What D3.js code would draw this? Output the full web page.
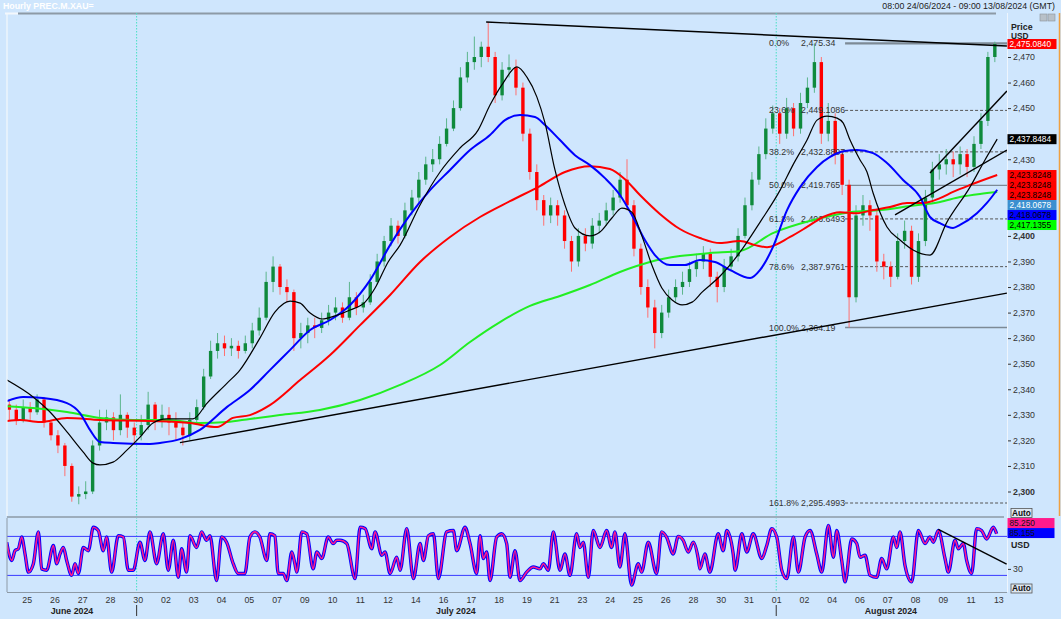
<!DOCTYPE html>
<html>
<head>
<meta charset="utf-8">
<script src="https://cdn.jsdelivr.net/npm/d3@7"></script>
<style>
  body { margin: 0; background: #cfe6fd; }
  svg { display: block; }
  text { font-family: "Liberation Sans", Arial, sans-serif; }
</style>
</head>
<body>
<div id="chart"></div>
<script>
// x positions are in "label slots": slot i is where dayLabels[i] sits
const dayLabels = ['25','26','27','28','30','02','03','04','05','07','09','10','11','12','14','16','17','18',
  '19','21','23','24','25','26','28','30','31','01','02','04','06','07','08','09','11','13']
const monthLabels = [['June 2024', 1.63], ['July 2024', 15.46], ['August 2024', 31.13]]
const monthStarts = [3.96, 27.0]

// candles every quarter slot: [close, high, low], open = previous close
const candleStart = -0.625
const candleStep = 0.25
const firstOpen = 2334
const candles = [
  [2332,2336,2328],[2328,2334,2326],[2333,2336,2327],[2331,2335,2328],[2336,2338,2330],[2327,2337,2325],
  [2322,2328,2320],[2318,2324,2315],[2310,2319,2306],[2298,2311,2296],[2299,2302,2295],[2300,2304,2297],
  [2318,2320,2299],[2327,2332,2316],[2329,2332,2324],[2324,2331,2320],[2330,2338,2322],[2325,2331,2321],
  [2322,2327,2319],[2326,2330,2320],[2334,2339,2324],[2328,2335,2324],[2330,2334,2325],[2327,2333,2322],
  [2325,2331,2320],[2322,2327,2318],[2328,2331,2320],[2333,2336,2326],[2345,2348,2332],[2355,2359,2344],
  [2358,2362,2352],[2356,2361,2353],[2357,2360,2353],[2355,2359,2352],[2358,2361,2354],[2363,2366,2356],
  [2368,2372,2361],[2382,2386,2367],[2388,2392,2378],[2380,2389,2377],[2378,2383,2374],[2360,2379,2355],
  [2362,2366,2356],[2365,2368,2358],[2364,2368,2360],[2367,2370,2362],[2370,2373,2365],[2372,2376,2367],
  [2368,2374,2366],[2376,2382,2367],[2372,2378,2369],[2374,2377,2370],[2382,2385,2373],[2390,2393,2381],
  [2398,2400,2388],[2404,2407,2396],[2400,2406,2397],[2410,2413,2399],[2415,2418,2408],[2422,2425,2413],
  [2428,2431,2420],[2430,2434,2425],[2436,2439,2428],[2442,2446,2435],[2450,2453,2441],[2462,2466,2449],
  [2468,2472,2460],[2470,2478,2465],[2474,2476,2466],[2470,2483.7,2468],[2455,2472,2452],[2465,2468,2453],
  [2466,2471,2462],[2458,2469,2455],[2440,2460,2437],[2425,2442,2422],[2414,2428,2410],[2408,2416,2404],
  [2412,2415,2405],[2408,2414,2404],[2398,2410,2395],[2390,2400,2386],[2400,2403,2388],[2397,2403,2394],
  [2404,2407,2395],[2406,2409,2401],[2410,2413,2404],[2415,2418,2408],[2422,2425,2413],[2412,2430,2410],
  [2395,2414,2392],[2380,2397,2377],[2372,2383,2368],[2362,2375,2356],[2370,2373,2360],[2376,2379,2368],
  [2380,2383,2374],[2382,2386,2377],[2387,2390,2380],[2390,2393,2384],[2393,2396,2387],[2384,2395,2380],
  [2380,2386,2374],[2388,2391,2378],[2392,2395,2386],[2400,2403,2390],[2412,2415,2399],[2422,2425,2410],
  [2432,2435,2420],[2442,2446,2430],[2448,2451,2440],[2440,2450,2436],[2450,2454,2438],[2442,2452,2439],
  [2452,2456,2440],[2458,2462,2450],[2468,2475.34,2456],[2440,2470,2436],[2445,2452,2437],[2432,2448,2428],
  [2420,2434,2416],[2376,2422,2364.19],[2408,2412,2374],[2412,2416,2404],[2408,2414,2402],[2390,2410,2386],
  [2388,2393,2383],[2384,2390,2380],[2398,2401,2383],[2402,2406,2395],[2384,2404,2381],[2398,2401,2382],
  [2415,2418,2396],[2426,2429,2413],[2428,2432,2422],[2430,2434,2424],[2428,2433,2423],[2432,2435,2424],
  [2427,2434,2423],[2436,2439,2425],[2445,2448,2434],[2470,2472,2443],[2475.084,2476,2468],
]

// moving averages: [slot, price]
const maBlack = [[-0.71,2343.6],[0.23,2337.0],[0.84,2331.1],[1.45,2323.3],[2.03,2315.5],[2.39,2311.1],[2.64,2310.4],
  [3.11,2311.5],[3.61,2316.2],[4.08,2321.3],[4.55,2326.8],[5.05,2328.4],[5.52,2328.4],[5.99,2328.4],[6.50,2334.6],
  [7.22,2342.4],[7.68,2347.5],[8.40,2360.0],[8.94,2370.2],[9.49,2374.5],[9.85,2373.7],[10.21,2369.8],[10.64,2367.5],
  [11.11,2368.7],[11.65,2371.0],[12.19,2374.1],[12.55,2379.6],[13.02,2389.8],[13.45,2396.4],[14.17,2412.1],
  [14.89,2425.0],[15.61,2434.4],[16.26,2441.4],[16.69,2451.2],[17.16,2459.8],[17.66,2466.1],[18.02,2462.1],
  [18.38,2454.3],[18.67,2444.2],[19.03,2425.8],[19.39,2412.1],[19.75,2403.1],[20.29,2400.0],[20.65,2401.5],
  [21.08,2407.0],[21.44,2410.9],[21.80,2409.3],[22.16,2400.0],[22.52,2388.6],[22.88,2379.6],[23.25,2374.9],
  [23.61,2373.0],[23.97,2374.1],[24.33,2378.0],[24.98,2384.3],[25.70,2393.7],[26.42,2405.4],[27.14,2417.9],
  [27.60,2427.7],[28.11,2437.5],[28.47,2445.3],[28.83,2446.9],[29.19,2446.1],[29.41,2444.2],[29.66,2437.5],
  [30.02,2429.7],[30.27,2425.0],[30.49,2416.8],[30.99,2403.5],[31.46,2398.4],[31.93,2394.5],[32.54,2392.5],
  [33.15,2405.4],[33.98,2419.1],[34.52,2429.7],[34.96,2437.85]]
const maBlue = [[-0.71,2335.4],[-0.13,2337.0],[0.59,2336.6],[1.45,2334.6],[1.92,2330.7],[2.28,2324.1],[2.64,2319.4],
  [3.11,2319.0],[4.44,2318.6],[4.80,2319.0],[5.52,2320.5],[6.24,2324.1],[7.22,2333.1],[8.04,2339.7],[8.76,2347.5],
  [9.49,2355.4],[10.21,2363.2],[10.93,2367.1],[11.65,2373.0],[12.37,2382.7],[13.09,2396.4],[13.81,2408.2],
  [14.53,2417.9],[15.25,2425.8],[15.97,2433.6],[16.69,2439.5],[17.23,2445.3],[17.77,2447.3],[18.31,2446.5],
  [18.67,2443.4],[19.21,2437.5],[19.75,2431.6],[20.29,2427.7],[20.83,2422.6],[21.37,2416.0],[21.80,2408.2],
  [22.27,2398.4],[22.63,2392.5],[23.17,2388.6],[23.71,2388.6],[24.25,2390.6],[24.79,2389.8],[25.33,2386.7],
  [26.06,2383.5],[26.42,2386.7],[26.88,2395.6],[27.39,2410.1],[27.86,2419.1],[28.47,2427.0],[28.94,2430.9],
  [29.48,2433.2],[29.91,2433.6],[30.49,2432.4],[30.99,2428.5],[31.57,2421.9],[32.18,2415.2],[32.54,2407.4],
  [32.90,2405.0],[33.37,2403.1],[33.62,2404.3],[34.23,2408.9],[34.59,2412.9],[34.96,2418.07]]
const maRed = [[-0.71,2327.6],[-0.24,2328.0],[0.48,2327.2],[1.45,2328.8],[2.64,2328.0],[4.44,2327.6],[5.88,2326.8],
  [6.86,2325.2],[7.43,2328.8],[8.04,2329.9],[8.76,2333.8],[9.85,2343.6],[10.93,2353.4],[12.01,2365.1],[13.09,2376.9],
  [14.17,2389.8],[15.25,2399.6],[16.33,2407.4],[17.41,2413.6],[18.49,2419.5],[19.39,2425.0],[20.29,2427.3],
  [21.01,2426.2],[21.55,2422.2],[22.09,2416.0],[22.81,2408.6],[23.53,2402.7],[24.25,2399.2],[24.98,2397.2],
  [25.70,2398.0],[26.24,2396.4],[26.67,2395.6],[27.50,2399.6],[28.11,2403.5],[28.69,2407.4],[29.30,2409.3],
  [29.91,2408.9],[30.49,2410.1],[31.10,2411.3],[31.71,2412.9],[32.29,2412.9],[32.90,2414.8],[33.37,2417.2],
  [33.98,2419.9],[34.96,2423.82]]
const maGreen = [[-0.71,2333.4],[0.23,2332.7],[1.45,2331.1],[2.64,2328.8],[3.83,2328.0],[5.05,2328.0],[6.24,2326.8],
  [7.22,2327.2],[8.04,2328.4],[9.12,2329.9],[10.56,2331.9],[12.01,2335.8],[13.45,2341.7],[14.89,2349.5],
  [15.97,2358.5],[17.05,2366.3],[18.13,2372.6],[19.21,2376.5],[20.29,2380.8],[21.37,2385.9],[22.45,2389.8],
  [23.53,2392.1],[24.61,2393.3],[25.70,2394.1],[26.88,2401.1],[28.33,2406.2],[29.66,2409.3],[30.74,2410.1],
  [31.82,2411.7],[32.90,2413.3],[33.62,2415.2],[34.34,2416.4],[34.96,2417.14]]

// last values shown in the right-hand boxes
const lastValues = [2475.0840, 2437.8484, 2423.8248, 2423.8248, 2423.8248, 2418.0678, 2418.0678, 2417.1355]

// fibonacci retracement
const fibStart = 29.48
const fibPct = ['0.0%','23.6%','38.2%','50.0%','61.8%','78.6%','100.0%','161.8%']
const fibValues = [2475.34, 2449.1086, 2432.8807, 2419.765, 2406.6493, 2387.9761, 2364.19, 2295.4993]

// drawn trend lines [slot, price]
const trendLines = [
  [[16.55,2483.7],[35.31,2474.3]],
  [[5.52,2319.1],[35.31,2377.6]],
  [[32.54,2424.6],[35.31,2456.7]],
  [[31.28,2408.2],[35.31,2433.6]],
]

// stochastic oscillator [slot, value]
const osc = [[-0.72,71],[-0.54,43],[-0.42,58],[-0.30,61],[-0.18,79],[-0.06,53],[0.06,25],[0.24,38],[0.42,87],
  [0.54,30],[0.72,28],[0.96,66],[1.08,38],[1.20,53],[1.32,63],[1.44,43],[1.62,20],[1.74,38],[1.86,23],[2.04,63],
  [2.22,58],[2.40,94],[2.58,89],[2.76,58],[2.88,79],[3.06,25],[3.30,81],[3.48,79],[3.66,28],[3.84,28],[4.08,71],
  [4.26,43],[4.44,87],[4.68,38],[4.92,84],[5.10,28],[5.28,74],[5.46,17],[5.58,61],[5.76,25],[5.88,81],[6.12,63],
  [6.30,87],[6.48,74],[6.60,81],[6.84,12],[7.02,79],[7.20,71],[7.44,38],[7.62,23],[7.86,23],[8.04,79],[8.22,87],
  [8.40,79],[8.65,43],[8.76,84],[8.94,81],[9.06,23],[9.24,23],[9.37,12],[9.55,56],[9.66,38],[9.73,25],[9.91,87],
  [10.09,84],[10.32,30],[10.45,56],[10.63,46],[10.86,79],[11.04,69],[11.17,74],[11.29,74],[11.53,69],[11.83,15],
  [12.01,94],[12.19,92],[12.43,61],[12.55,87],[12.79,51],[12.91,56],[13.09,23],[13.33,48],[13.45,28],[13.69,92],
  [13.93,15],[14.17,69],[14.29,43],[14.47,81],[14.65,84],[14.83,15],[15.13,87],[15.37,89],[15.49,58],[15.79,94],
  [15.97,69],[16.21,23],[16.33,81],[16.45,46],[16.57,56],[16.69,12],[16.93,79],[17.11,84],[17.29,69],[17.41,17],
  [17.59,58],[17.77,12],[18.01,25],[18.25,33],[18.49,30],[18.61,38],[18.79,28],[18.97,87],[19.21,28],[19.39,53],
  [19.57,20],[19.81,84],[19.93,63],[20.05,71],[20.23,17],[20.41,89],[20.65,63],[20.89,89],[21.07,63],[21.19,87],
  [21.37,33],[21.55,84],[21.79,5],[22.03,38],[22.15,25],[22.39,71],[22.69,23],[22.87,87],[23.05,79],[23.29,53],
  [23.47,80],[23.65,74],[23.83,56],[24.01,71],[24.19,46],[24.25,30],[24.43,53],[24.61,25],[24.91,84],[25.09,58],
  [25.22,89],[25.45,53],[25.52,28],[25.76,84],[25.94,56],[26.17,84],[26.48,46],[26.66,66],[26.84,92],[27.02,79],
  [27.20,28],[27.38,15],[27.62,79],[27.80,25],[28.04,79],[28.22,89],[28.46,53],[28.64,25],[28.88,97],[29.06,48],
  [29.18,89],[29.36,43],[29.48,10],[29.72,76],[29.90,69],[30.02,48],[30.20,51],[30.38,20],[30.62,17],[30.80,46],
  [30.98,30],[31.22,79],[31.34,63],[31.46,87],[31.64,35],[31.88,10],[32.12,89],[32.36,69],[32.54,79],[32.66,71],
  [32.84,89],[33.08,46],[33.20,25],[33.44,74],[33.56,61],[33.74,69],[33.86,43],[34.04,23],[34.22,92],[34.40,89],
  [34.58,76],[34.82,94],[34.94,84]]
const oscLevels = [80, 20]
const oscTicks = [30]
const oscLast = [85.250, 85.155]
const oscTrend = [[32.84,90.9],[35.30,37.5]]

const yTicks = d3.range(2300, 2471, 10)

// ---------------------------------------------------------------
const W = 1061, H = 619
const P = { left: 7, right: 1007, top: 13, bottom: 516 }
const O = { top: 518, bottom: 592 }
const BG = '#cfe6fd'
const FONT = 8.8
const BOXFONT = 8.3

const x = d3.scaleLinear().domain([0, 35]).range([26.7, 998.3])
const y = d3.scaleLinear().domain([2300, 2470]).range([491.5, 57])
const yOsc = d3.scaleLinear().domain([0, 100]).range([588.4, 523.4])

const svg = d3.select('#chart').append('svg').attr('width', W).attr('height', H)
svg.append('rect').attr('width', W).attr('height', H).attr('fill', BG)

const defs = svg.append('defs')
defs.append('clipPath').attr('id', 'clip-main')
  .append('rect').attr('x', P.left).attr('y', P.top).attr('width', P.right - P.left).attr('height', P.bottom - P.top)
defs.append('clipPath').attr('id', 'clip-osc')
  .append('rect').attr('x', P.left).attr('y', O.top).attr('width', P.right - P.left).attr('height', O.bottom - O.top)

// header
svg.append('text').attr('x', 3).attr('y', 9).attr('fill', '#fff').attr('font-weight', 'bold')
  .attr('font-size', FONT).text('Hourly PREC.M.XAU=')
svg.append('text').attr('x', 1055).attr('y', 9).attr('text-anchor', 'end').attr('fill', '#222')
  .attr('font-size', FONT).text('08:00 24/06/2024 - 09:00 13/08/2024 (GMT)')
svg.append('line').attr('x1', 18).attr('x2', 996).attr('y1', 13.5).attr('y2', 13.5)
  .attr('stroke', '#8d9aa6').attr('stroke-width', 2)
svg.append('line').attr('x1', 5).attr('x2', 18).attr('y1', 13.5).attr('y2', 13.5)
  .attr('stroke', '#f4f8fc').attr('stroke-width', 2)
svg.selectAll('rect.btn').data([1040, 1048]).join('rect').attr('class', 'btn')
  .attr('x', d => d).attr('y', 14).attr('width', 7).attr('height', 7)
  .attr('fill', '#b8c0c8').attr('stroke', '#8a929a').attr('stroke-width', 0.6)

const main = svg.append('g').attr('clip-path', 'url(#clip-main)')
const lower = svg.append('g').attr('clip-path', 'url(#clip-osc)')

// month separators
;[main, lower].forEach(g => g.selectAll('line.month').data(monthStarts).join('line').attr('class', 'month')
  .attr('x1', d => x(d)).attr('x2', d => x(d)).attr('y1', P.top).attr('y2', O.bottom)
  .attr('stroke', '#48e0c4').attr('stroke-dasharray', '1.5,1.5'))

// fibonacci levels
const solidFib = new Set(['0.0%', '50.0%', '100.0%'])
main.selectAll('line.fib').data(fibValues).join('line').attr('class', 'fib')
  .attr('x1', x(fibStart)).attr('x2', P.right)
  .attr('y1', d => y(d)).attr('y2', d => y(d))
  .attr('stroke', (d, i) => solidFib.has(fibPct[i]) ? '#7d8a96' : '#555')
  .attr('stroke-width', (d, i) => fibPct[i] === '0.0%' ? 2.2 : (solidFib.has(fibPct[i]) ? 1.4 : 1))
  .attr('stroke-dasharray', (d, i) => solidFib.has(fibPct[i]) ? null : '3,2')

// candles
const bars = candles.map((r, i) => ({
  day: candleStart + i * candleStep,
  o: i ? candles[i - 1][0] : firstOpen,
  c: r[0], h: r[1], l: r[2],
}))
const cw = 3.4
const cg = main.append('g').attr('class', 'candles')
cg.selectAll('line').data(bars).join('line')
  .attr('x1', d => x(d.day)).attr('x2', d => x(d.day))
  .attr('y1', d => y(d.h)).attr('y2', d => y(d.l))
  .attr('stroke', d => d.c >= d.o ? '#5cb58c' : '#ff7070').attr('stroke-width', 1)
cg.selectAll('rect').data(bars).join('rect')
  .attr('x', d => x(d.day) - cw / 2).attr('width', cw)
  .attr('y', d => y(Math.max(d.o, d.c)))
  .attr('height', d => Math.max(1, Math.abs(y(d.o) - y(d.c))))
  .attr('fill', d => d.c >= d.o ? '#0f8a3c' : '#ff0000')

// fib labels sit over the candles, like the reference
const fibLabel = main.selectAll('g.fibl').data(fibValues).join('g').attr('class', 'fibl')
  .attr('transform', d => `translate(0,${y(d)})`)
fibLabel.append('text').attr('x', x(fibStart) - 76).attr('dy', '0.35em').attr('font-size', FONT)
  .attr('fill', '#333').text((d, i) => fibPct[i])
fibLabel.append('text').attr('x', x(fibStart) - 44).attr('dy', '0.35em').attr('font-size', FONT)
  .attr('fill', '#333').text(d => d3.format(',')(d))

// moving averages
const maLine = d3.line().x(d => x(d[0])).y(d => y(d[1])).curve(d3.curveMonotoneX)
const mas = [[maGreen, '#22ee22', 2], [maRed, '#ff0000', 2], [maBlue, '#0000ff', 2], [maBlack, '#000', 1.2]]
main.selectAll('path.ma').data(mas).join('path').attr('class', 'ma')
  .attr('d', d => maLine(d[0])).attr('fill', 'none')
  .attr('stroke', d => d[1]).attr('stroke-width', d => d[2])

// trend lines
const straight = d3.line().x(d => x(d[0])).y(d => y(d[1]))
main.selectAll('path.trend').data(trendLines).join('path').attr('class', 'trend')
  .attr('d', straight).attr('fill', 'none').attr('stroke', '#000').attr('stroke-width', 1.4)

// oscillator
lower.selectAll('line.lvl').data(oscLevels).join('line').attr('class', 'lvl')
  .attr('x1', P.left).attr('x2', P.right).attr('y1', d => yOsc(d)).attr('y2', d => yOsc(d))
  .attr('stroke', '#3a3aff').attr('stroke-width', 1)
const oscLine = d3.line().x(d => x(d[0])).y(d => yOsc(d[1])).curve(d3.curveMonotoneX)
lower.append('path').attr('d', oscLine(osc)).attr('fill', 'none').attr('stroke', '#0000ff').attr('stroke-width', 3.4)
lower.append('path').attr('d', oscLine(osc)).attr('fill', 'none').attr('stroke', '#ff1a8c').attr('stroke-width', 1.6)
lower.append('path').attr('d', d3.line().x(d => x(d[0])).y(d => yOsc(d[1]))(oscTrend))
  .attr('fill', 'none').attr('stroke', '#000').attr('stroke-width', 1.4)

// frames
svg.append('line').attr('x1', P.left).attr('x2', P.left).attr('y1', P.top).attr('y2', P.bottom)
  .attr('stroke', '#f4f8fc').attr('stroke-width', 1.2)
svg.append('line').attr('x1', P.left).attr('x2', 1004).attr('y1', 517).attr('y2', 517)
  .attr('stroke', '#8d9aa6').attr('stroke-width', 1.6)
svg.append('line').attr('x1', P.left).attr('x2', P.left).attr('y1', O.top).attr('y2', O.bottom)
  .attr('stroke', '#8d9aa6').attr('stroke-width', 1)
svg.append('line').attr('x1', P.left).attr('x2', P.right).attr('y1', O.bottom + 0.5).attr('y2', O.bottom + 0.5)
  .attr('stroke', '#8d9aa6').attr('stroke-width', 1)
svg.append('line').attr('x1', P.right + 0.5).attr('x2', P.right + 0.5).attr('y1', P.top).attr('y2', O.bottom)
  .attr('stroke', '#eef5fd').attr('stroke-width', 1)
svg.append('line').attr('x1', 1059.5).attr('x2', 1059.5).attr('y1', P.top).attr('y2', P.bottom)
  .attr('stroke', '#f0a040').attr('stroke-width', 1.5)

// last-value boxes, pushed down when they collide
const boxFill = ['#ff0000', '#000000', '#ff0000', '#ff0000', '#ff0000', '#3a8fd0', '#0000ff', '#00ff00']
const boxText = ['#fff', '#fff', '#000', '#000', '#000', '#fff', '#000', '#000']
let prevBottom = -Infinity
const boxes = lastValues.map((v, i) => {
  const top = Math.max(y(v) - 5, prevBottom)
  prevBottom = top + 10
  return { v, top, i }
})

// right price axis; labels that sit under a value box are hidden, as in the reference
const underBox = t => boxes.some(b => y(t) > b.top - 3 && y(t) < b.top + 13)
const yAxis = svg.append('g').attr('transform', `translate(${P.right + 1},0)`)
  .call(d3.axisRight(y).tickValues(yTicks.filter(t => !underBox(t))).tickFormat(d3.format(',')).tickSize(3).tickPadding(2))
yAxis.select('.domain').remove()
yAxis.selectAll('line').attr('stroke', '#333')
yAxis.selectAll('text').attr('font-size', FONT).attr('fill', '#333')
  .attr('font-family', '"Liberation Sans", Arial, sans-serif')
  .attr('font-weight', d => d % 100 === 0 ? 'bold' : null)

svg.append('text').attr('x', 1011).attr('y', 30).attr('font-size', FONT).attr('font-weight', 'bold')
  .attr('fill', '#222').text('Price')
svg.append('text').attr('x', 1011).attr('y', 38.6).attr('font-size', BOXFONT).attr('font-weight', 'bold')
  .attr('fill', '#222').text('USD')

const bg = svg.selectAll('g.box').data(boxes).join('g').attr('class', 'box')
  .attr('transform', d => `translate(${P.right + 0.5},${d.top})`)
bg.append('rect').attr('width', 49).attr('height', 10).attr('fill', d => boxFill[d.i])
bg.append('text').attr('x', 2).attr('y', 8).attr('font-size', BOXFONT).attr('fill', d => boxText[d.i])
  .text(d => d3.format(',.4f')(d.v))

// "Auto" buttons
const autoBtn = (yy) => {
  const g = svg.append('g').attr('transform', `translate(1011,${yy})`)
  g.append('rect').attr('width', 21).attr('height', 9).attr('fill', '#dde7f0').attr('stroke', '#555').attr('stroke-width', 0.8)
  g.append('text').attr('x', 10.5).attr('y', 7.4).attr('text-anchor', 'middle').attr('font-size', BOXFONT)
    .attr('font-weight', 'bold').attr('fill', '#111').text('Auto')
}
autoBtn(508.5)
autoBtn(584)

// oscillator axis
const oAxis = svg.append('g').attr('transform', `translate(${P.right + 1},0)`)
  .call(d3.axisRight(yOsc).tickValues(oscTicks).tickSize(3).tickPadding(2))
oAxis.select('.domain').remove()
oAxis.selectAll('line').attr('stroke', '#333')
oAxis.selectAll('text').attr('font-size', FONT).attr('fill', '#333')
  .attr('font-family', '"Liberation Sans", Arial, sans-serif')
const oFill = ['#ff1a8c', '#0000ff']
oscLast.forEach((v, i) => {
  const top = yOsc(oscLast[oscLast.length - 1]) - 5 - (oscLast.length - 1 - i) * 10
  const g = svg.append('g').attr('transform', `translate(${P.right + 0.5},${top})`)
  g.append('rect').attr('width', 47).attr('height', 10).attr('fill', oFill[i])
  g.append('text').attr('x', 2).attr('y', 8).attr('font-size', BOXFONT).attr('fill', '#111').text(d3.format('.3f')(v))
})
svg.append('text').attr('x', 1011).attr('y', 548).attr('font-size', FONT).attr('font-weight', 'bold')
  .attr('fill', '#222').text('USD')

// bottom axis
const xAxis = svg.append('g').attr('transform', `translate(0,${O.bottom})`)
  .call(d3.axisBottom(x).tickValues(d3.range(dayLabels.length)).tickFormat(i => dayLabels[i]).tickSize(0).tickPadding(5))
xAxis.select('.domain').remove()
xAxis.selectAll('text').attr('font-size', FONT).attr('fill', '#333')
  .attr('font-family', '"Liberation Sans", Arial, sans-serif')
svg.selectAll('text.month').data(monthLabels).join('text').attr('class', 'month')
  .attr('x', d => x(d[1])).attr('y', 614).attr('text-anchor', 'middle')
  .attr('font-size', FONT).attr('font-weight', 'bold').attr('fill', '#222').text(d => d[0])
svg.selectAll('line.msep').data(monthStarts).join('line').attr('class', 'msep')
  .attr('x1', d => x(d)).attr('x2', d => x(d)).attr('y1', 605).attr('y2', 616)
  .attr('stroke', '#333').attr('stroke-width', 1)
</script>
</body>
</html>
